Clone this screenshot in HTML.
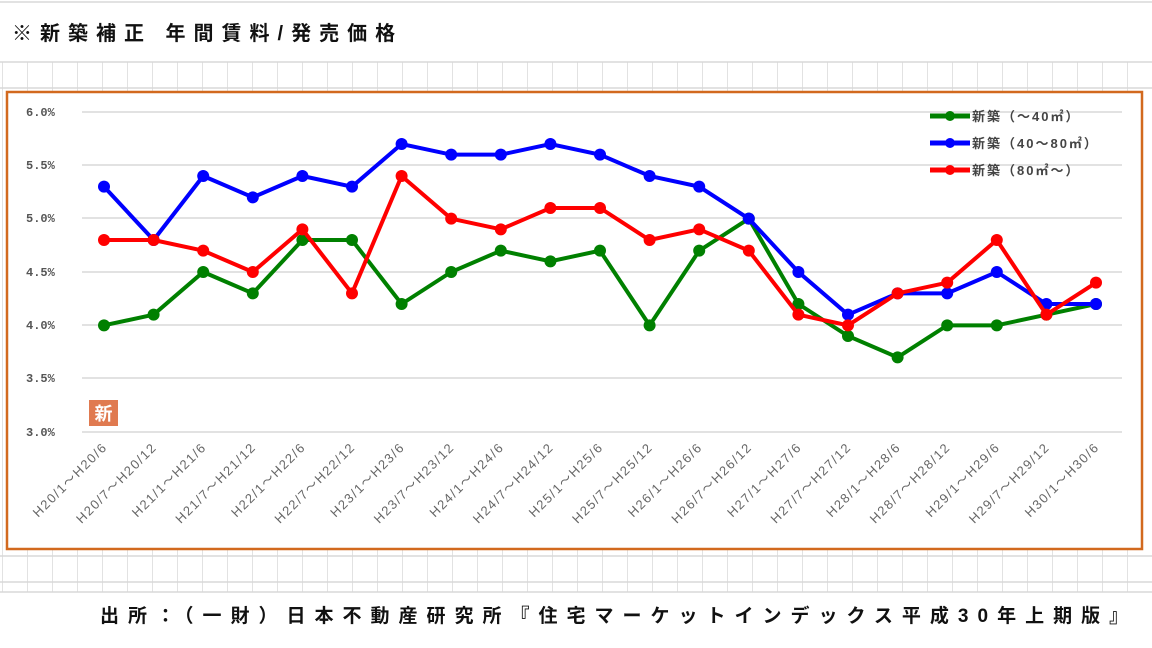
<!DOCTYPE html>
<html><head><meta charset="utf-8"><style>
body{margin:0;width:1152px;height:648px;overflow:hidden;background:#fff;font-family:"Liberation Sans","Noto Sans CJK JP",sans-serif}
</style></head><body>
<svg width="1152" height="648" xmlns="http://www.w3.org/2000/svg" style="position:absolute;left:0;top:0">
<defs>
<pattern id="g" x="2" y="0" width="25" height="26" patternUnits="userSpaceOnUse">
<path d="M0 0V26" stroke="#d8d8d8" stroke-width="1.5"/>
</pattern>
</defs>
<rect x="0" y="62" width="1152" height="530" fill="url(#g)"/>
<g stroke="#d8d8d8" stroke-width="1.5">
<line x1="0" y1="62" x2="1152" y2="62"/><line x1="0" y1="88" x2="1152" y2="88"/>
<line x1="0" y1="556" x2="1152" y2="556"/><line x1="0" y1="582" x2="1152" y2="582"/>
<line x1="0" y1="2" x2="1152" y2="2"/>
</g>
<rect x="0" y="592" width="1152" height="56" fill="#fff"/>
<line x1="0" y1="592" x2="1152" y2="592" stroke="#d8d8d8" stroke-width="1.5"/>
<rect x="7" y="92" width="1135" height="457" fill="#fff" stroke="#d2691e" stroke-width="2.5"/>
<text x="12" y="40" font-size="20" font-weight="bold" fill="#111" letter-spacing="8">※新築補正 年間賃料/発売価格</text>
<text x="100" y="622" font-size="19" font-weight="bold" fill="#111" letter-spacing="9">出所：（一財）日本不動産研究所『住宅マーケットインデックス平成30年上期版』</text>
<g stroke="#d9d9d9" stroke-width="1.5">
<line x1="82" y1="112" x2="1122" y2="112"/><line x1="82" y1="165" x2="1122" y2="165"/>
<line x1="82" y1="218" x2="1122" y2="218"/><line x1="82" y1="272" x2="1122" y2="272"/>
<line x1="82" y1="325" x2="1122" y2="325"/><line x1="82" y1="378" x2="1122" y2="378"/>
<line x1="82" y1="432" x2="1122" y2="432"/>
</g>
<g font-size="12" font-weight="bold" fill="#555" font-family="Liberation Mono,monospace">
<text x="26" y="116">6.0%</text><text x="26" y="169">5.5%</text><text x="26" y="222">5.0%</text>
<text x="26" y="276">4.5%</text><text x="26" y="329">4.0%</text><text x="26" y="382">3.5%</text>
<text x="26" y="436">3.0%</text>
</g>
<rect x="89" y="400" width="29" height="26" fill="#e07a50"/>
<text x="103.5" y="420" font-size="18" font-weight="bold" fill="#fff" text-anchor="middle">新</text>
<g id="lbl" font-size="13" fill="#666" letter-spacing="1.5"></g>
<g id="ser"></g>
<g font-size="13" font-weight="bold" fill="#444" letter-spacing="2">
<line x1="930" y1="116" x2="970" y2="116" stroke="green" stroke-width="5"/><circle cx="950" cy="116" r="5" fill="green"/>
<text x="972" y="121">新築（〜40㎡）</text>
<line x1="930" y1="143" x2="970" y2="143" stroke="blue" stroke-width="5"/><circle cx="950" cy="143" r="5" fill="blue"/>
<text x="972" y="148">新築（40〜80㎡）</text>
<line x1="930" y1="170" x2="970" y2="170" stroke="red" stroke-width="5"/><circle cx="950" cy="170" r="5" fill="red"/>
<text x="972" y="175">新築（80㎡〜）</text>
</g>
</svg>
<script>
const ns="http://www.w3.org/2000/svg";
const labs=[];for(let y=20;y<=30;y++){labs.push(`H${y}/1～H${y}/6`);if(y<30)labs.push(`H${y}/7～H${y}/12`);}
const X=i=>104+i*49.6, Y=v=>112+(6-v)*106.67;
const L=document.getElementById('lbl');
labs.forEach((t,i)=>{const e=document.createElementNS(ns,'text');const x=X(i)+4,y=448;e.setAttribute('x',x);e.setAttribute('y',y);e.setAttribute('text-anchor','end');e.setAttribute('transform',`rotate(-45 ${x} ${y})`);e.textContent=t;L.appendChild(e);});
const S={green:[4.0,4.1,4.5,4.3,4.8,4.8,4.2,4.5,4.7,4.6,4.7,4.0,4.7,5.0,4.2,3.9,3.7,4.0,4.0,4.1,4.2],
blue:[5.3,4.8,5.4,5.2,5.4,5.3,5.7,5.6,5.6,5.7,5.6,5.4,5.3,5.0,4.5,4.1,4.3,4.3,4.5,4.2,4.2],
red:[4.8,4.8,4.7,4.5,4.9,4.3,5.4,5.0,4.9,5.1,5.1,4.8,4.9,4.7,4.1,4.0,4.3,4.4,4.8,4.1,4.4]};
const G=document.getElementById('ser');
for(const c in S){const p=document.createElementNS(ns,'polyline');p.setAttribute('points',S[c].map((v,i)=>X(i)+','+Y(v)).join(' '));p.setAttribute('fill','none');p.setAttribute('stroke',c);p.setAttribute('stroke-width','4');G.appendChild(p);
S[c].forEach((v,i)=>{const e=document.createElementNS(ns,'circle');e.setAttribute('cx',X(i));e.setAttribute('cy',Y(v));e.setAttribute('r','6');e.setAttribute('fill',c);G.appendChild(e);});}
</script>
</body></html>
